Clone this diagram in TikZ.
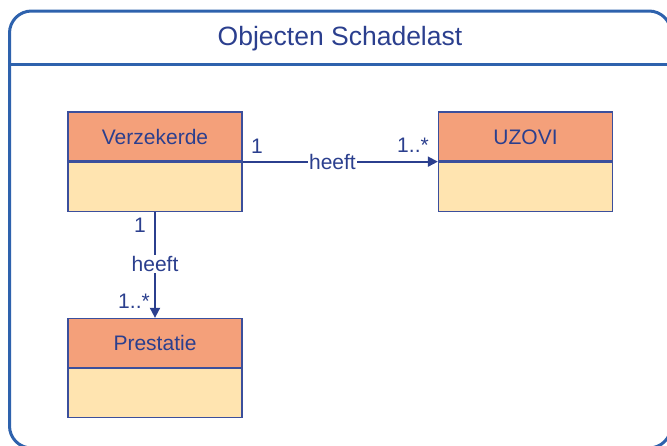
\documentclass[tikz,border=0pt]{standalone}
\usepackage{fontspec}
\setmainfont{Liberation Sans}
\usetikzlibrary{arrows.meta}
\definecolor{frameblue}{HTML}{2E62AD}
\definecolor{inkblue}{HTML}{2B3F8E}
\definecolor{boxline}{HTML}{3B4F9C}
\definecolor{headfill}{HTML}{F4A07A}
\definecolor{bodyfill}{HTML}{FFE4B0}
\tikzset{
  frame/.style={draw=frameblue, line width=3pt, rounded corners=22pt},
  classhead/.style={draw=boxline, fill=headfill, line width=1.3pt, minimum width=174pt, minimum height=49pt, inner sep=0pt, text=inkblue, font=\fontsize{21}{25}\selectfont, text height=15pt, text depth=0pt},
  classbody/.style={draw=boxline, fill=bodyfill, line width=1.3pt, minimum width=174pt, minimum height=49pt, inner sep=0pt, anchor=north},
  assoc/.style={draw=inkblue, line width=1.8pt, -{Triangle[length=10pt,width=10pt]}},
  lbl/.style={text=inkblue, font=\fontsize{21}{25}\selectfont, inner sep=1pt},
  midlbl/.style={lbl, fill=white, inner sep=1.5pt, text height=15pt, text depth=0pt}
}
\begin{document}
\begin{tikzpicture}[x=1pt,y=-1pt]
\useasboundingbox (0,0) rectangle (667,445);
% frame
\draw[frame] (9.5,11) rectangle (671,448);
\coordinate (hl) at (9.5,64);
\coordinate (hr) at (671,64);
\draw[draw=frameblue, line width=3pt] (hl) -- (hr);
\node[text=inkblue, font=\fontsize{26.5}{31}\selectfont, anchor=base, inner sep=0pt] (title) at (340,45) {Objecten Schadelast};
% classes
\node[classhead] (vh) at (155,136.5) {Verzekerde};
\node[classbody] (vb) at (vh.south) {};
\node[classhead] (uh) at (525.5,136.5) {UZOVI};
\node[classbody] (ub) at (uh.south) {};
\node[classhead] (ph) at (155,343) {Prestatie};
\node[classbody] (pb) at (ph.south) {};
% associations
\draw[assoc] (vh.south east) -- node[midlbl, pos=0.46] (h1) {heeft} (uh.south west);
\draw[assoc] (vb.south) -- node[midlbl, pos=0.49] (h2) {heeft} (ph.north);
% multiplicities
\node[lbl] (m1) at (257,146) {1};
\node[lbl] (m2) at (413,145) {1..*};
\node[lbl] (m3) at (140,225) {1};
\node[lbl] (m4) at (134,301) {1..*};
\end{tikzpicture}
\end{document}
